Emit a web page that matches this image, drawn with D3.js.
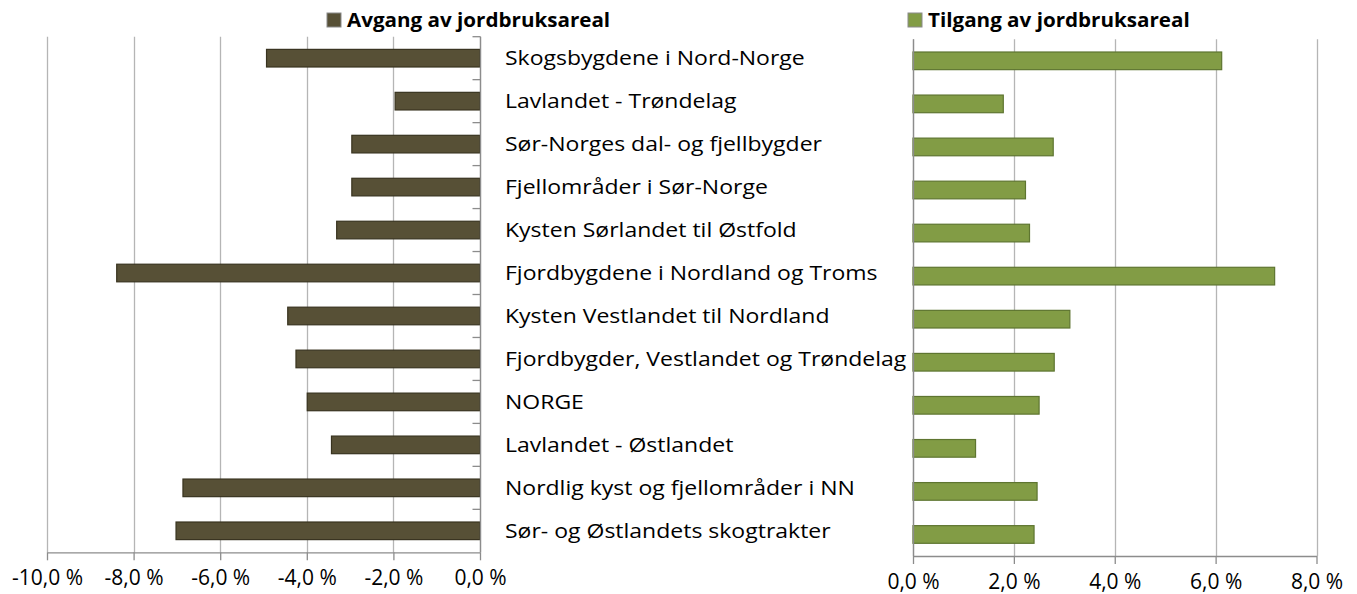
<!DOCTYPE html>
<html>
<head>
<meta charset="utf-8">
<script src="https://cdn.jsdelivr.net/npm/d3@7"></script>
<style>
  html, body { margin: 0; padding: 0; background: #fff; }
  svg { display: block; }
  text { font-family: "Open Sans", Lato, sans-serif; fill: #000; }
</style>
</head>
<body>
<svg id="chart" width="1357" height="594"></svg>
<script>
const categories = [
  "Skogsbygdene i Nord-Norge",
  "Lavlandet - Trøndelag",
  "Sør-Norges dal- og fjellbygder",
  "Fjellområder i Sør-Norge",
  "Kysten Sørlandet til Østfold",
  "Fjordbygdene i Nordland og Troms",
  "Kysten Vestlandet til Nordland",
  "Fjordbygder, Vestlandet og Trøndelag",
  "NORGE",
  "Lavlandet - Østlandet",
  "Nordlig kyst og fjellområder i NN",
  "Sør- og Østlandets skogtrakter"
];
const avgang = [-4.93, -1.96, -2.96, -2.96, -3.31, -8.39, -4.44, -4.25, -3.99, -3.43, -6.86, -7.02];
const tilgang = [6.12, 1.79, 2.78, 2.23, 2.31, 7.17, 3.11, 2.80, 2.50, 1.24, 2.46, 2.40];
const leftTicks = [-10, -8, -6, -4, -2, 0];
const rightTicks = [0, 2, 4, 6, 8];
const seriesNames = ["Avgang av jordbruksareal", "Tilgang av jordbruksareal"];

const colDark = "#575036", strokeDark = "#38331f";
const colGreen = "#829c45", strokeGreen = "#5e7530";
const gridCol = "#b5b5b5", axisCol = "#8c8c8c";

const svg = d3.select("#chart");
svg.append("rect").attr("width", 1357).attr("height", 594).attr("fill", "#fff");

const fmt = d => d.toFixed(1).replace(".", ",") + " %";

const xL = d3.scaleLinear().domain([-10, 0]).range([47, 480]);
const xR = d3.scaleLinear().domain([0, 8]).range([913, 1316.5]);
const yL = d3.scaleBand().domain(categories).range([36.7, 552.3]).paddingInner(0.59).paddingOuter(0.295);
const yR = d3.scaleBand().domain(categories).range([39.3, 556]).paddingInner(0.59).paddingOuter(0.295);

function panel(x, y, ticks, values, fill, stroke, zeroVal, yTicks) {
  const g = svg.append("g");
  const [top, bottom] = y.range();
  g.selectAll("line.grid").data(ticks).join("line")
    .attr("x1", d => Math.round(x(d)) + 0.5).attr("x2", d => Math.round(x(d)) + 0.5)
    .attr("y1", top).attr("y2", bottom)
    .attr("stroke", gridCol).attr("stroke-width", 1.3);
  g.selectAll("rect.bar").data(values).join("rect")
    .attr("x", d => Math.min(x(d), x(zeroVal)))
    .attr("width", d => Math.abs(x(d) - x(zeroVal)))
    .attr("y", (d, i) => y(categories[i]))
    .attr("height", y.bandwidth())
    .attr("fill", fill).attr("stroke", stroke).attr("stroke-width", 1.2);
  const zx = Math.round(x(zeroVal)) + 0.5;
  g.append("line").attr("x1", zx).attr("x2", zx).attr("y1", top).attr("y2", bottom)
    .attr("stroke", axisCol).attr("stroke-width", 1.3);
  if (yTicks) {
    const step = y.step();
    const bounds = d3.range(categories.length).map(i => top + i * step);
    g.selectAll("line.yt").data(bounds).join("line")
      .attr("x1", zx - 8).attr("x2", zx).attr("y1", d => d).attr("y2", d => d)
      .attr("stroke", axisCol).attr("stroke-width", 1.3);
  }
  const ax = g.append("g").attr("transform", `translate(0,${bottom})`)
    .call(d3.axisBottom(x).tickValues(ticks).tickFormat(fmt).tickSize(8).tickSizeOuter(0));
  ax.select(".domain").attr("stroke", axisCol).attr("stroke-width", 1.3);
  ax.selectAll(".tick line").attr("stroke", axisCol).attr("stroke-width", 1.3);
  ax.selectAll(".tick text").attr("font-size", 21).attr("font-family", "Lato, sans-serif")
    .attr("fill", "#000").attr("y", 18);
  return g;
}

panel(xL, yL, leftTicks, avgang, colDark, strokeDark, 0, true);
panel(xR, yR, rightTicks, tilgang, colGreen, strokeGreen, 0, false);

svg.append("g").selectAll("text").data(categories).join("text")
  .attr("transform", d => `translate(505,${yL(d) + yL.bandwidth() / 2}) scale(1.15,1)`)
  .attr("dy", "0.36em")
  .attr("font-size", 20)
  .text(d => d);

const legends = [
  { name: seriesNames[0], x: 327, fill: colDark },
  { name: seriesNames[1], x: 908, fill: colGreen }
];
const lg = svg.append("g");
legends.forEach(l => {
  lg.append("rect").attr("x", l.x).attr("y", 13).attr("width", 14).attr("height", 14)
    .attr("fill", l.fill).attr("stroke", "#8a8a8a").attr("stroke-width", 1);
  lg.append("text").attr("transform", `translate(${l.x + 20},27) scale(1.085,1)`)
    .attr("font-size", 19).attr("font-weight", "bold").text(l.name);
});
</script>
</body>
</html>
